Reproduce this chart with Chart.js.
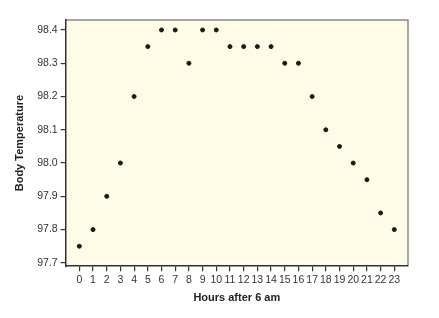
<!DOCTYPE html>
<html><head><meta charset="utf-8">
<script src="https://cdn.jsdelivr.net/npm/chart.js@4/dist/chart.umd.min.js"></script>
<style>html,body{margin:0;padding:0;background:#fff}#wrap{width:439px;height:318px}</style>
</head><body><div id="wrap"><canvas id="c" width="439" height="318"></canvas></div>
<script>
const hours = [0,1,2,3,4,5,6,7,8,9,10,11,12,13,14,15,16,17,18,19,20,21,22,23];
const temps = [97.75,97.8,97.9,98.0,98.2,98.35,98.4,98.4,98.3,98.4,98.4,98.35,98.35,98.35,98.35,98.3,98.3,98.2,98.1,98.05,98.0,97.95,97.85,97.8];
const yTicks = [97.7,97.8,97.9,98.0,98.1,98.2,98.3,98.4];
const xTitle = 'Hours after 6 am';
const yTitle = 'Body Temperature';

const bgPlugin = {
  id:'bg',
  beforeDraw(chart){
    const {ctx, chartArea:a} = chart;
    ctx.save();
    ctx.fillStyle = '#fefbe7';
    ctx.fillRect(a.left, a.top, a.right-a.left, a.bottom-a.top);
    ctx.strokeStyle = '#8a8a8a';
    ctx.lineWidth = 1.5;
    ctx.beginPath();
    ctx.moveTo(a.left, a.top); ctx.lineTo(a.right, a.top); ctx.lineTo(a.right, a.bottom);
    ctx.stroke();
    ctx.restore();
  }
};

new Chart(document.getElementById('c'), {
  type:'scatter',
  data:{datasets:[{data:hours.map((h,i)=>({x:h,y:temps[i]})), backgroundColor:'#1a1a1a', borderColor:'#1a1a1a', pointRadius:2, pointHoverRadius:2}]},
  options:{
    responsive:false, animation:false,
    layout:{padding:{top:20,right:31,bottom:13,left:13}},
    plugins:{legend:{display:false}, tooltip:{enabled:false}},
    scales:{
      x:{type:'linear', min:-1, max:24,
        afterBuildTicks(s){ s.ticks = hours.map(v=>({value:v})); },
        ticks:{autoSkip:false, maxRotation:0, padding:3, color:'#333', font:{family:'Liberation Sans', size:10.5}},
        grid:{drawOnChartArea:false, drawTicks:true, tickLength:5, color:'#333', lineWidth:1.2},
        border:{display:true, color:'#333', width:1.5},
        title:{display:true, text:xTitle, color:'#222', font:{family:'Liberation Sans', size:11, weight:'bold'}, padding:{top:2,bottom:0}}
      },
      y:{min:97.69, max:98.43,
        afterBuildTicks(s){ s.ticks = yTicks.map(v=>({value:v})); },
        ticks:{padding:3, color:'#333', font:{family:'Liberation Sans', size:10.5}, callback:v=>v.toFixed(1)},
        grid:{drawOnChartArea:false, drawTicks:true, tickLength:5, color:'#333', lineWidth:1.2},
        border:{display:true, color:'#333', width:1.5},
        title:{display:true, text:yTitle, color:'#222', font:{family:'Liberation Sans', size:11, weight:'bold'}, padding:{top:0,bottom:8}}
      }
    }
  },
  plugins:[bgPlugin]
});
</script></body></html>
